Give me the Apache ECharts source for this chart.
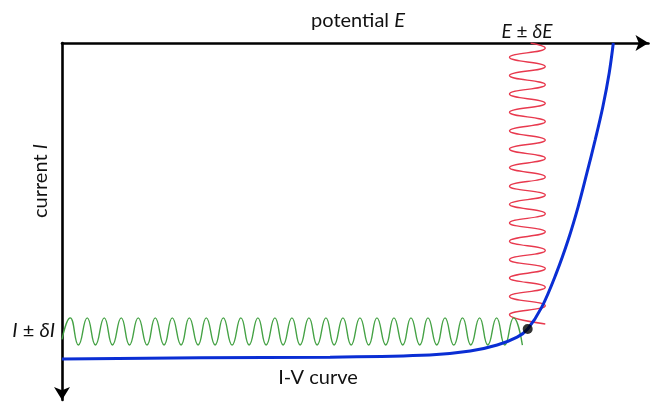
<!DOCTYPE html>
<html><head><meta charset="utf-8">
<script src="https://cdn.jsdelivr.net/npm/echarts@6/dist/echarts.min.js"></script>
<style>html,body{margin:0;padding:0;background:#fff}#c{width:657px;height:408px}</style>
</head><body><div id="c"></div>
<script>
// I-V curve (potential E in arbitrary units, current I in arbitrary units, I axis points down)
const ivPotential = [0, 23.6, 45.7, 62.7, 69.6, 74.2, 77.6, 79.4, 81.8, 84.3, 86.3, 88.0, 89.5, 90.9, 92.2, 93.3, 94.0];
const ivCurrent   = [88.5, 88.2, 88.0, 87.4, 86.3, 84.6, 82.4, 80.1, 74.0, 64.4, 55.2, 45.9, 36.4, 27.2, 18.0, 8.4, 0];

// current response I ± δI (green): extrema positions
const respPotential = [0, 1.4, 2.8, 4.3, 5.7, 7.2, 8.6, 10.1, 11.5, 13.0, 14.5, 15.9, 17.4, 18.8, 20.3, 21.7, 23.2, 24.6, 26.1, 27.5, 29.0, 30.5, 31.9, 33.4, 34.8, 36.3, 37.7, 39.2, 40.6, 42.1, 43.5, 45.0, 46.4, 47.9, 49.3, 50.8, 52.3, 53.7, 55.2, 56.6, 58.1, 59.5, 61.0, 62.4, 63.9, 65.3, 66.8, 68.3, 69.7, 71.2, 72.6, 74.1, 75.5, 77.0, 78.5];
const respCurrent   = [83.0, 77.0, 84.6, 77.0, 84.6, 77.0, 84.6, 77.0, 84.6, 77.0, 84.6, 77.0, 84.6, 77.0, 84.6, 77.0, 84.6, 77.0, 84.6, 77.0, 84.6, 77.0, 84.6, 77.0, 84.6, 77.0, 84.6, 77.0, 84.6, 77.0, 84.6, 77.0, 84.6, 77.0, 84.6, 77.0, 84.6, 77.0, 84.6, 77.0, 84.6, 77.0, 84.6, 77.0, 84.6, 77.0, 84.6, 77.0, 84.6, 77.0, 84.6, 77.0, 84.6, 77.0, 84.6];

// potential perturbation E ± δE (red): extrema positions
const pertPotential = [79.9, 82.4, 76.3, 82.4, 76.3, 82.4, 76.3, 82.4, 76.3, 82.4, 76.3, 82.4, 76.3, 82.4, 76.3, 82.4, 76.3, 82.4, 76.3, 82.4, 76.3, 82.4, 76.3, 82.4, 76.3, 82.4, 76.3, 82.4, 76.3, 82.4, 76.3, 82.4];
const pertCurrent   = [0, 1.4, 4.0, 6.6, 9.1, 11.7, 14.3, 16.9, 19.4, 22.0, 24.6, 27.2, 29.7, 32.3, 34.9, 37.5, 40.1, 42.6, 45.2, 47.8, 50.4, 52.9, 55.5, 58.1, 60.7, 63.2, 65.8, 68.4, 71.0, 73.6, 76.1, 78.7];

// operating point
const opPoint = [79.4, 80.1];

const zip = (a, b) => a.map((v, i) => [v, b[i]]);
const FONT = 'Lato, "Open Sans", "Liberation Sans", sans-serif';
const FS = 20;

const chart = echarts.init(document.getElementById('c'), null, {renderer: 'canvas'});
chart.setOption({
  animation: false,
  backgroundColor: '#fff',
  grid: {left: 62, top: 43, right: 8.5, bottom: 8, containLabel: false},
  xAxis: {
    type: 'value', min: 0, max: 100, position: 'top',
    axisLine: {show: true, onZero: false, symbol: ['none', 'arrow'], symbolSize: [12, 13], lineStyle: {color: '#000', width: 2.6}},
    axisTick: {show: false}, axisLabel: {show: false}, splitLine: {show: false}
  },
  yAxis: {
    type: 'value', min: 0, max: 100, inverse: true, position: 'left',
    axisLine: {show: true, onZero: false, symbol: ['arrow', 'none'], symbolSize: [12, 13], lineStyle: {color: '#000', width: 2.6}},
    axisTick: {show: false}, axisLabel: {show: false}, splitLine: {show: false}
  },
  series: [
    {type: 'line', data: zip(pertPotential, pertCurrent), smooth: 0.5, showSymbol: false, z: 2,
     lineStyle: {color: '#e8394e', width: 1.4}},
    {type: 'line', data: zip(respPotential, respCurrent), smooth: 0.5, showSymbol: false, z: 2,
     lineStyle: {color: '#45a245', width: 1.4}},
    {type: 'line', data: zip(ivPotential, ivCurrent), smooth: 0.35, showSymbol: false, z: 3,
     lineStyle: {color: '#0a2ed4', width: 3}},
    {type: 'scatter', data: [opPoint], symbolSize: 10, z: 4, itemStyle: {color: '#000'}}
  ],
  graphic: [
    {type: 'text', x: 358, y: 21, style: {text: 'potential {it|E}', font: FS + 'px ' + FONT, fill: '#111', align: 'center', verticalAlign: 'middle',
      rich: {it: {fontStyle: 'italic', fontSize: FS, fontFamily: FONT, fill: '#111'}}}},
    {type: 'text', x: 527, y: 32, style: {text: '{it|E} ± {it|δE}', font: (FS - 1) + 'px ' + FONT, fill: '#111', align: 'center', verticalAlign: 'middle',
      rich: {it: {fontStyle: 'italic', fontSize: FS - 1, fontFamily: FONT, fill: '#111'}}}},
    {type: 'text', x: 41, y: 181, rotation: Math.PI / 2, style: {text: 'current {it|I}', font: FS + 'px ' + FONT, fill: '#111', align: 'center', verticalAlign: 'middle',
      rich: {it: {fontStyle: 'italic', fontSize: FS, fontFamily: FONT, fill: '#111'}}}},
    {type: 'text', x: 55, y: 331, style: {text: '{it|I} ± {it|δI}', font: FS + 'px ' + FONT, fill: '#111', align: 'right', verticalAlign: 'middle',
      rich: {it: {fontStyle: 'italic', fontSize: FS, fontFamily: FONT, fill: '#111'}}}},
    {type: 'text', x: 318, y: 378, style: {text: 'I-V curve', font: FS + 'px ' + FONT, fill: '#111', align: 'center', verticalAlign: 'middle'}}
  ]
});
</script>
</body></html>
